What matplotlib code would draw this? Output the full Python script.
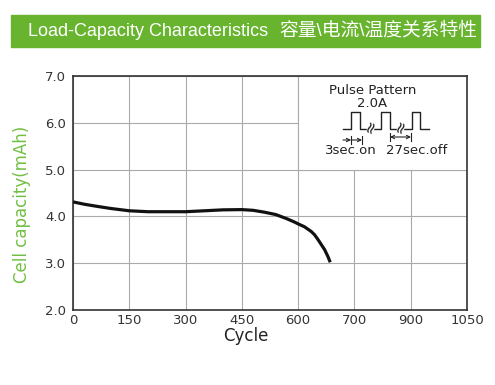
import matplotlib
matplotlib.use("Agg")
import matplotlib.pyplot as plt
import numpy as np
from matplotlib.patches import Rectangle

plt.rcParams['font.family'] = ['DejaVu Sans', 'Noto Sans CJK SC']

# datos
titulo_en = "Load-Capacity Characteristics"
titulo_cn = "容量\\电流\\温度关系特性"
x_ticks = [0, 150, 300, 450, 600, 700, 900, 1050]
y_ticks = [2.0, 3.0, 4.0, 5.0, 6.0, 7.0]
ciclos = [0, 30, 60, 100, 150, 200, 250, 300, 350, 400, 450, 480, 510,
          540, 570, 590, 600, 611, 623, 629, 635, 641, 647, 653, 657]
capacidad = [4.31, 4.26, 4.22, 4.17, 4.12, 4.10, 4.10, 4.10, 4.12, 4.14, 4.145,
             4.13, 4.09, 4.04, 3.95, 3.88, 3.84, 3.78, 3.68, 3.61, 3.51, 3.40,
             3.29, 3.14, 3.02]

verde = '#68b42f'
gris = '#333333'
negro = '#222222'

fig = plt.figure(figsize=(4.95, 3.85), dpi=100)

# barra del titulo
fig.patches.append(Rectangle((11 / 495, 1 - 47 / 385), 469 / 495, 32 / 385,
                             transform=fig.transFigure, color=verde, zorder=0))
fig.text(28 / 495, 1 - 31 / 385, titulo_en, color='white', fontsize=13,
         va='center', ha='left', family=['Liberation Sans'])
fig.text(279 / 495, 1 - 31 / 385, titulo_cn, color='white', fontsize=13.5,
         va='center', ha='left', family=['Liberation Sans', 'Noto Sans CJK SC'])

ax = fig.add_axes([73 / 495, 1 - 310 / 385, 394 / 495, 234 / 385])

# los ticks del eje x estan igualmente espaciados
pos = np.arange(len(x_ticks))
xs = np.interp(ciclos, x_ticks, pos)
ax.plot(xs, capacidad, color='#111111', lw=2.3, zorder=3, solid_capstyle='butt')

ax.set_xlim(0, len(x_ticks) - 1)
ax.set_ylim(2, 7)
ax.set_xticks(pos)
ax.set_xticklabels([str(v) for v in x_ticks])
ax.set_yticks(y_ticks)
ax.set_yticklabels(['%.1f' % v for v in y_ticks])
ax.tick_params(length=0, labelsize=9.5, colors=gris)
ax.tick_params(axis='x', pad=3)
ax.tick_params(axis='y', pad=5)
ax.grid(True, color='#aaaaaa', lw=0.8, zorder=0)
ax.set_axisbelow(True)
for s in ax.spines.values():
    s.set_color(gris)
    s.set_linewidth(1.2)

# recuadro del patron de pulsos
ax.add_patch(Rectangle((4, 5), 3, 2, facecolor='white', edgecolor='#aaaaaa',
                       lw=0.8, zorder=1))

tr = ax.transAxes
def px(x, y):
    return ((x - 73) / 394, (310 - y) / 234)

ax.text(*px(373, 91), "Pulse Pattern", transform=tr, ha='center', va='center',
        fontsize=9.5, color=negro)
ax.text(*px(372, 103.5), "2.0A", transform=tr, ha='center', va='center',
        fontsize=9.5, color=negro)
ax.text(*px(351, 151), "3sec.on", transform=tr, ha='center', va='center',
        fontsize=9.5, color=negro)
ax.text(*px(417, 151), "27sec.off", transform=tr, ha='center', va='center',
        fontsize=9.5, color=negro)

onda_x = [343, 351, 351, 360, 360, 381, 381, 390, 390, 412, 412, 420, 420, 429]
onda_y = [129, 129, 112, 112, 129, 129, 112, 112, 129, 129, 112, 112, 129, 129]
ox, oy = zip(*[px(a, b) for a, b in zip(onda_x, onda_y)])
ax.plot(ox, oy, color=negro, lw=1.0, transform=tr, zorder=4)

for bx in [370, 400]:
    ax.plot(*px(bx, 129), marker='s', ms=5, color='white', transform=tr, zorder=4)
    ax.text(*px(bx, 127), "≈", transform=tr, ha='center', va='center',
            fontsize=12, rotation=70, color=negro, zorder=5)

flecha = dict(arrowstyle='->', lw=0.8, color=negro, mutation_scale=6,
              shrinkA=0, shrinkB=0)
ax.annotate("", xy=px(351, 140), xytext=px(343, 140), xycoords=tr, textcoords=tr,
            arrowprops=flecha)
ax.annotate("", xy=px(362, 140), xytext=px(351, 140), xycoords=tr, textcoords=tr,
            arrowprops=flecha)
ax.annotate("", xy=px(411, 137), xytext=px(390, 137), xycoords=tr, textcoords=tr,
            arrowprops=dict(flecha, arrowstyle='<->'))
for bx, by in [(351, 140), (362, 140), (390, 137), (411, 137)]:
    ax.plot(*zip(px(bx, by - 4), px(bx, by + 4)), color=negro, lw=0.8, transform=tr)

fig.text(246 / 495, 1 - 336 / 385, "Cycle", ha='center', va='center',
         fontsize=12, color=negro)
fig.text(22 / 495, 1 - 204 / 385, "Cell capacity(mAh)", ha='center', va='center',
         rotation=90, fontsize=12, color='#72bf44')

fig.savefig('out.png', dpi=100)
